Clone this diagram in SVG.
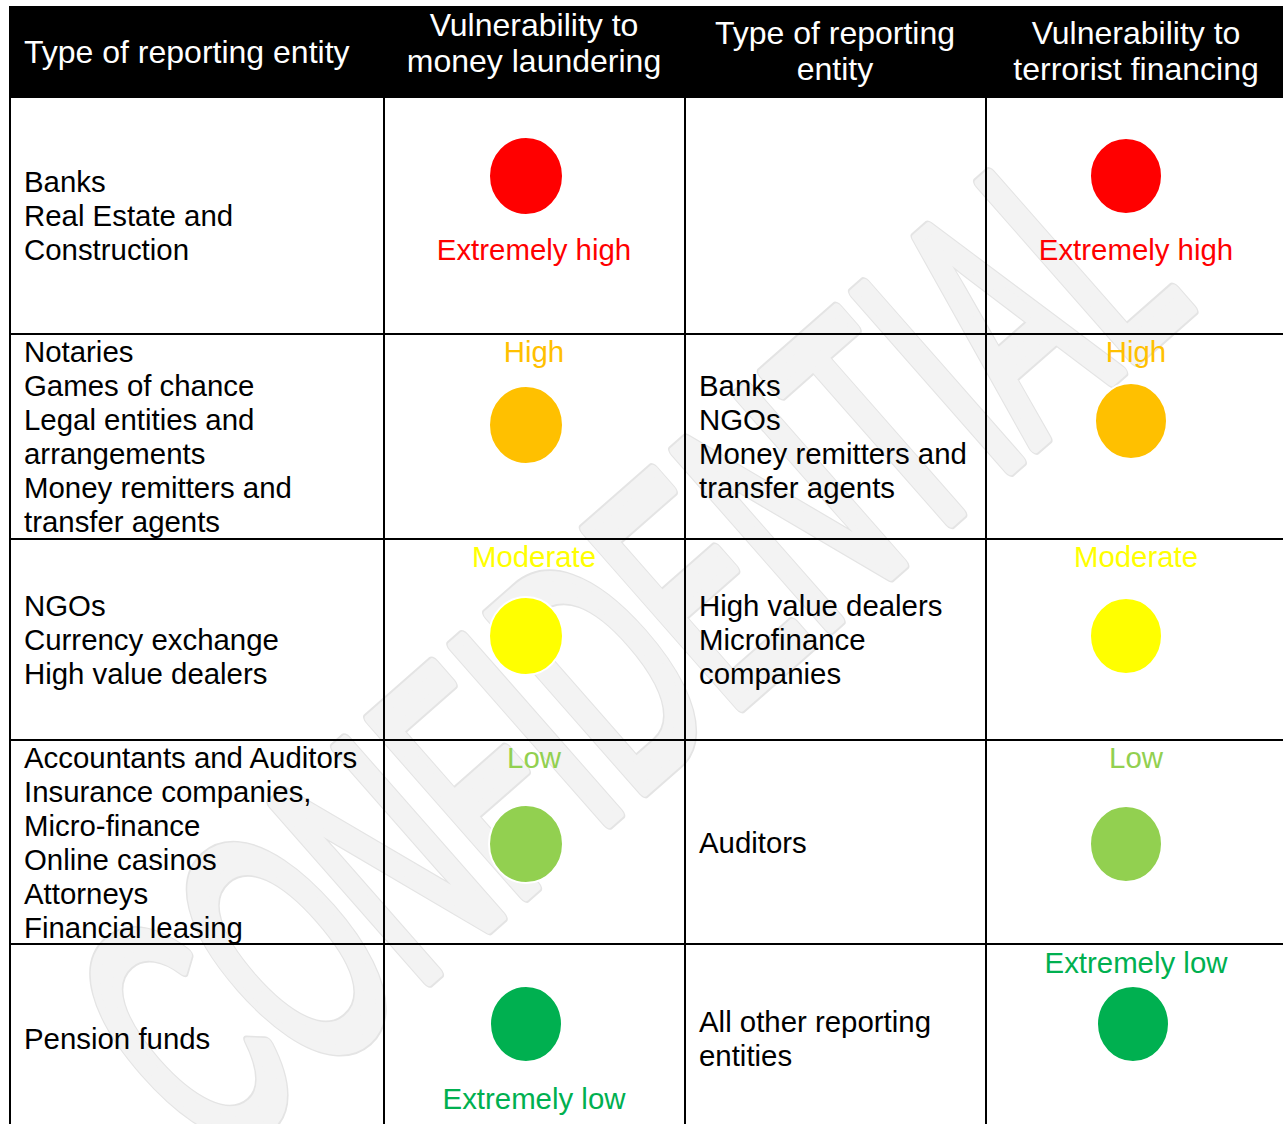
<svg xmlns="http://www.w3.org/2000/svg" width="1283" height="1124" viewBox="0 0 1283 1124">
<style>
.h{font-family:"Liberation Sans",Arial,sans-serif;font-size:32px;fill:#fff}
.b{font-family:"Liberation Sans",Arial,sans-serif;font-size:29.4px;fill:#000}
.c{font-family:"Liberation Sans",Arial,sans-serif;font-size:29.4px;text-anchor:middle}
.m{text-anchor:middle}
.ln{stroke:#000;stroke-width:2;fill:none}
.dot{stroke:#fff;stroke-width:2}
.wm{font-family:"Liberation Sans",Arial,sans-serif;font-size:340px;text-anchor:middle;stroke-linejoin:round}
</style>
<rect width="1283" height="1124" fill="#fff"/>
<g id="watermark" transform="translate(706,736) rotate(-41.3)">
<text class="wm" x="0" y="0" textLength="1307" lengthAdjust="spacingAndGlyphs" fill="#e4e4e4" stroke="#e4e4e4" stroke-width="16">CONFIDENTIAL</text>
<text class="wm" x="0" y="0" textLength="1307" lengthAdjust="spacingAndGlyphs" fill="#f3f3f3" stroke="#f3f3f3" stroke-width="12">CONFIDENTIAL</text>
</g>
<g id="header">
<rect x="9" y="6" width="1274" height="92" fill="#000"/>
<text class="h" x="24" y="63">Type of reporting entity</text>
<text class="h m" x="534" y="36">Vulnerability to</text>
<text class="h m" x="534" y="72">money laundering</text>
<text class="h m" x="835" y="44">Type of reporting</text>
<text class="h m" x="835" y="80">entity</text>
<text class="h m" x="1136" y="44">Vulnerability to</text>
<text class="h m" x="1136" y="80">terrorist financing</text>
</g>
<g id="grid">
<line class="ln" x1="10" y1="98" x2="10" y2="1124"/>
<line class="ln" x1="384" y1="98" x2="384" y2="1124"/>
<line class="ln" x1="685" y1="98" x2="685" y2="1124"/>
<line class="ln" x1="986" y1="98" x2="986" y2="1124"/>
<line class="ln" x1="9" y1="334" x2="1283" y2="334"/>
<line class="ln" x1="9" y1="539" x2="1283" y2="539"/>
<line class="ln" x1="9" y1="740" x2="1283" y2="740"/>
<line class="ln" x1="9" y1="944" x2="1283" y2="944"/>
</g>
<g id="row1-ml-entities">
<text class="b" x="24" y="192">Banks</text>
<text class="b" x="24" y="226">Real Estate and</text>
<text class="b" x="24" y="260">Construction</text>
</g>
<g id="row1-ml-level">
<ellipse class="dot" cx="526" cy="176" rx="37" ry="39" fill="#ff0000"/>
<text class="c" x="534" y="260" fill="#ff0000">Extremely high</text>
</g>
<g id="row1-tf-level">
<ellipse class="dot" cx="1126" cy="176" rx="36" ry="38" fill="#ff0000"/>
<text class="c" x="1136" y="260" fill="#ff0000">Extremely high</text>
</g>
<g id="row2-ml-entities">
<text class="b" x="24" y="362">Notaries</text>
<text class="b" x="24" y="396">Games of chance</text>
<text class="b" x="24" y="430">Legal entities and</text>
<text class="b" x="24" y="464">arrangements</text>
<text class="b" x="24" y="498">Money remitters and</text>
<text class="b" x="24" y="532">transfer agents</text>
</g>
<g id="row2-ml-level">
<text class="c" x="534" y="362" fill="#ffc000">High</text>
<ellipse class="dot" cx="526" cy="425" rx="37" ry="39" fill="#ffc000"/>
</g>
<g id="row2-tf-entities">
<text class="b" x="699" y="396">Banks</text>
<text class="b" x="699" y="430">NGOs</text>
<text class="b" x="699" y="464">Money remitters and</text>
<text class="b" x="699" y="498">transfer agents</text>
</g>
<g id="row2-tf-level">
<text class="c" x="1136" y="362" fill="#ffc000">High</text>
<ellipse class="dot" cx="1131" cy="421" rx="36" ry="38" fill="#ffc000"/>
</g>
<g id="row3-ml-entities">
<text class="b" x="24" y="616">NGOs</text>
<text class="b" x="24" y="650">Currency exchange</text>
<text class="b" x="24" y="684">High value dealers</text>
</g>
<g id="row3-ml-level">
<text class="c" x="534" y="567" fill="#ffff00">Moderate</text>
<ellipse class="dot" cx="526" cy="636" rx="37" ry="39" fill="#ffff00"/>
</g>
<g id="row3-tf-entities">
<text class="b" x="699" y="616">High value dealers</text>
<text class="b" x="699" y="650">Microfinance</text>
<text class="b" x="699" y="684">companies</text>
</g>
<g id="row3-tf-level">
<text class="c" x="1136" y="567" fill="#ffff00">Moderate</text>
<ellipse class="dot" cx="1126" cy="636" rx="36" ry="38" fill="#ffff00"/>
</g>
<g id="row4-ml-entities">
<text class="b" x="24" y="768">Accountants and Auditors</text>
<text class="b" x="24" y="802">Insurance companies,</text>
<text class="b" x="24" y="836">Micro-finance</text>
<text class="b" x="24" y="870">Online casinos</text>
<text class="b" x="24" y="904">Attorneys</text>
<text class="b" x="24" y="938">Financial leasing</text>
</g>
<g id="row4-ml-level">
<text class="c" x="534" y="768" fill="#92d050">Low</text>
<ellipse class="dot" cx="526" cy="844" rx="37" ry="39" fill="#92d050"/>
</g>
<g id="row4-tf-entities">
<text class="b" x="699" y="853">Auditors</text>
</g>
<g id="row4-tf-level">
<text class="c" x="1136" y="768" fill="#92d050">Low</text>
<ellipse class="dot" cx="1126" cy="844" rx="36" ry="38" fill="#92d050"/>
</g>
<g id="row5-ml-entities">
<text class="b" x="24" y="1049">Pension funds</text>
</g>
<g id="row5-ml-level">
<ellipse class="dot" cx="526" cy="1024" rx="36" ry="38" fill="#00b050"/>
<text class="c" x="534" y="1109" fill="#00b050">Extremely low</text>
</g>
<g id="row5-tf-entities">
<text class="b" x="699" y="1032">All other reporting</text>
<text class="b" x="699" y="1066">entities</text>
</g>
<g id="row5-tf-level">
<text class="c" x="1136" y="973" fill="#00b050">Extremely low</text>
<ellipse class="dot" cx="1133" cy="1024" rx="36" ry="38" fill="#00b050"/>
</g>
</svg>
